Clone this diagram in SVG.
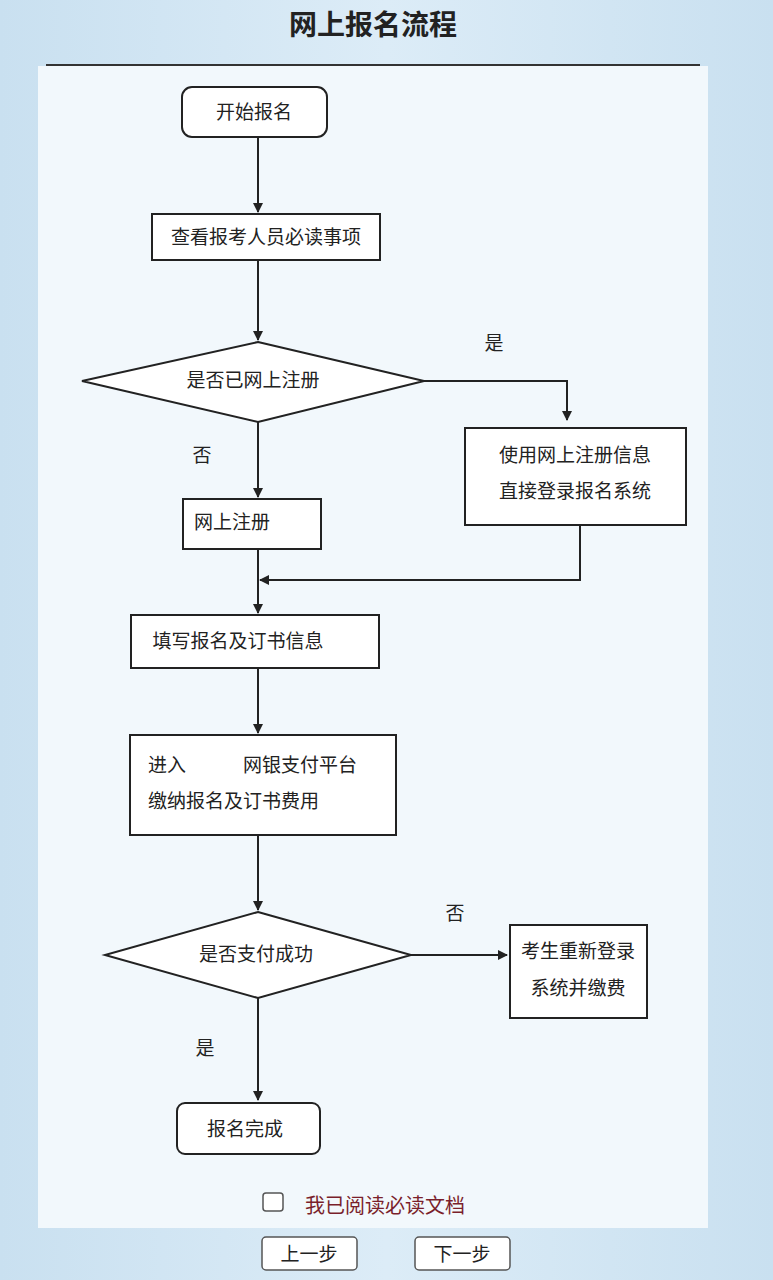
<svg xmlns="http://www.w3.org/2000/svg" width="773" height="1280" viewBox="0 0 773 1280">
<defs>
<linearGradient id="bg" x1="0" y1="0" x2="1" y2="0"><stop offset="0" stop-color="#c9e0f0"/><stop offset="0.5" stop-color="#dcecf7"/><stop offset="1" stop-color="#c9e0f0"/></linearGradient>
<marker id="ah" markerWidth="10" markerHeight="10" refX="9" refY="5" orient="auto" markerUnits="userSpaceOnUse"><path d="M0,0 L10,5 L0,10 Z" fill="#222"/></marker>
</defs>
<style>
.n{fill:#fff;stroke:#222;stroke-width:2}
.t{font-family:"Noto Sans CJK SC","Noto Sans",sans-serif;font-size:19px;fill:#222}
.c{fill:none;stroke:#222;stroke-width:2}
.b{fill:#fff;stroke:#555;stroke-width:1.5}
</style>
<rect width="773" height="1280" fill="url(#bg)"/>
<rect x="38" y="66" width="670" height="1162" fill="#f2f8fc"/>
<text x="373" y="35" text-anchor="middle" font-family="Noto Sans CJK SC,sans-serif" font-size="28" font-weight="bold" fill="#222">网上报名流程</text>
<line x1="46" y1="65" x2="700" y2="65" stroke="#333" stroke-width="2"/>
<g id="connectors">
<path class="c" d="M258,137 V212" marker-end="url(#ah)"/>
<path class="c" d="M258,260 V340" marker-end="url(#ah)"/>
<path class="c" d="M258,422 V497" marker-end="url(#ah)"/>
<path class="c" d="M424,381 H567 V420" marker-end="url(#ah)"/>
<path class="c" d="M580,525 V580 H260" marker-end="url(#ah)"/>
<path class="c" d="M258,549 V613" marker-end="url(#ah)"/>
<path class="c" d="M258,668 V733" marker-end="url(#ah)"/>
<path class="c" d="M258,835 V910" marker-end="url(#ah)"/>
<path class="c" d="M411,955 H507" marker-end="url(#ah)"/>
<path class="c" d="M258,998 V1100" marker-end="url(#ah)"/>
</g>
<g id="start"><rect class="n" x="182" y="87" width="145" height="50" rx="10"/><text class="t" x="254" y="119" text-anchor="middle">开始报名</text></g>
<g id="read"><rect class="n" x="152" y="214" width="228" height="46"/><text class="t" x="266" y="244" text-anchor="middle">查看报考人员必读事项</text></g>
<g id="q1"><polygon class="n" points="258,342 424,381 258,422 82,381"/><text class="t" x="253" y="387" text-anchor="middle">是否已网上注册</text></g>
<text class="t" x="494" y="350" text-anchor="middle">是</text>
<text class="t" x="202" y="462" text-anchor="middle">否</text>
<g id="login"><rect class="n" x="465" y="428" width="221" height="97"/><text class="t" x="575" y="462" text-anchor="middle">使用网上注册信息</text><text class="t" x="575" y="498" text-anchor="middle">直接登录报名系统</text></g>
<g id="reg"><rect class="n" x="183" y="499" width="138" height="50"/><text class="t" x="232" y="529" text-anchor="middle">网上注册</text></g>
<g id="fill"><rect class="n" x="131" y="615" width="248" height="53"/><text class="t" x="238" y="648" text-anchor="middle">填写报名及订书信息</text></g>
<g id="pay"><rect class="n" x="130" y="735" width="266" height="100"/><text class="t" x="148" y="772">进入</text><text class="t" x="243" y="772">网银支付平台</text><text class="t" x="148" y="808">缴纳报名及订书费用</text></g>
<g id="q2"><polygon class="n" points="258,912 411,955 258,998 105,955"/><text class="t" x="256" y="961" text-anchor="middle">是否支付成功</text></g>
<text class="t" x="455" y="920" text-anchor="middle">否</text>
<text class="t" x="205" y="1055" text-anchor="middle">是</text>
<g id="retry"><rect class="n" x="510" y="925" width="137" height="93"/><text class="t" x="578" y="958" text-anchor="middle">考生重新登录</text><text class="t" x="578" y="995" text-anchor="middle">系统并缴费</text></g>
<g id="done"><rect class="n" x="177" y="1103" width="143" height="51" rx="8"/><text class="t" x="245" y="1136" text-anchor="middle">报名完成</text></g>
<g id="check"><rect class="b" x="263" y="1193" width="20" height="18" rx="3"/><text x="305" y="1213" font-family="Noto Sans CJK SC,sans-serif" font-size="20" fill="#7a1f2b">我已阅读必读文档</text></g>
<g id="prev"><rect class="b" x="262" y="1237" width="95" height="33" rx="4"/><text class="t" x="309" y="1261" text-anchor="middle" font-size="21">上一步</text></g>
<g id="next"><rect class="b" x="415" y="1237" width="95" height="33" rx="4"/><text class="t" x="462" y="1261" text-anchor="middle" font-size="21">下一步</text></g>
</svg>
